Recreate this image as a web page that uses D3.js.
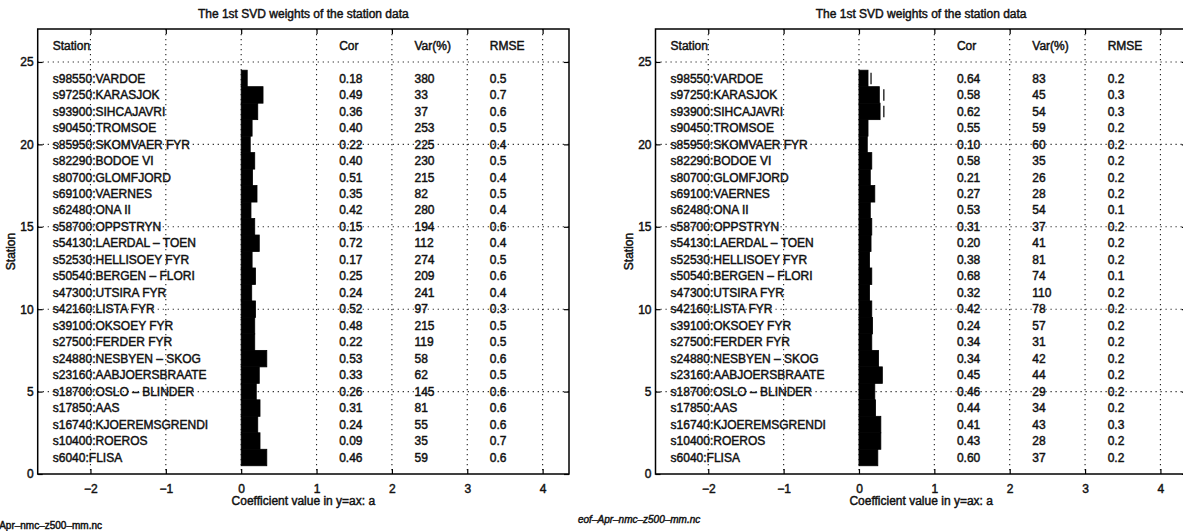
<!DOCTYPE html>
<html>
<head>
<meta charset="utf-8">
<script src="https://cdn.jsdelivr.net/npm/d3@7"></script>
<style>
  body { margin: 0; background: #fff; }
  svg text { font-family: "Liberation Sans", Arial, Helvetica, sans-serif; fill: #111; }
</style>
</head>
<body>
<svg id="fig" width="1183" height="531"></svg>
<script>
// Stations, listed from the top row (y = 24) down to the bottom row (y = 1)
const stations = [
  "s98550:VARDOE", "s97250:KARASJOK", "s93900:SIHCAJAVRI", "s90450:TROMSOE",
  "s85950:SKOMVAER FYR", "s82290:BODOE VI", "s80700:GLOMFJORD", "s69100:VAERNES",
  "s62480:ONA II", "s58700:OPPSTRYN", "s54130:LAERDAL – TOEN", "s52530:HELLISOEY FYR",
  "s50540:BERGEN – FLORI", "s47300:UTSIRA FYR", "s42160:LISTA FYR", "s39100:OKSOEY FYR",
  "s27500:FERDER FYR", "s24880:NESBYEN – SKOG", "s23160:AABJOERSBRAATE", "s18700:OSLO – BLINDER",
  "s17850:AAS", "s16740:KJOEREMSGRENDI", "s10400:ROEROS", "s6040:FLISA"
];

// Left figure: SVD weights (coefficient a) and statistics
const weightsLeft = [0.08, 0.29, 0.22, 0.145, 0.12, 0.18, 0.15, 0.21, 0.13, 0.18, 0.24, 0.145,
                     0.19, 0.14, 0.19, 0.18, 0.18, 0.34, 0.24, 0.20, 0.25, 0.22, 0.25, 0.34];
const corLeft  = [0.18, 0.49, 0.36, 0.40, 0.22, 0.40, 0.51, 0.35, 0.42, 0.15, 0.72, 0.17,
                  0.25, 0.24, 0.52, 0.48, 0.22, 0.53, 0.33, 0.26, 0.31, 0.24, 0.09, 0.46];
const varLeft  = [380, 33, 37, 253, 225, 230, 215, 82, 280, 194, 112, 274,
                  209, 241, 97, 215, 119, 58, 62, 145, 81, 55, 35, 59];
const rmseLeft = [0.5, 0.7, 0.6, 0.5, 0.4, 0.5, 0.4, 0.5, 0.4, 0.6, 0.4, 0.5,
                  0.6, 0.4, 0.3, 0.5, 0.5, 0.6, 0.5, 0.6, 0.6, 0.6, 0.7, 0.6];

// Right figure (April)
const weightsRight = [0.12, 0.27, 0.28, 0.12, 0.11, 0.17, 0.15, 0.21, 0.15, 0.17, 0.16, 0.14,
                      0.17, 0.14, 0.17, 0.18, 0.17, 0.26, 0.31, 0.21, 0.22, 0.29, 0.29, 0.25];
const corRight  = [0.64, 0.58, 0.62, 0.55, 0.10, 0.58, 0.21, 0.27, 0.53, 0.31, 0.20, 0.38,
                   0.68, 0.32, 0.42, 0.24, 0.34, 0.34, 0.45, 0.46, 0.44, 0.41, 0.43, 0.60];
const varRight  = [83, 45, 54, 59, 60, 35, 26, 28, 54, 37, 41, 81,
                   74, 110, 78, 57, 31, 42, 44, 29, 34, 43, 28, 37];
const rmseRight = [0.2, 0.3, 0.3, 0.2, 0.2, 0.2, 0.2, 0.2, 0.1, 0.2, 0.2, 0.2,
                   0.1, 0.2, 0.2, 0.2, 0.2, 0.2, 0.2, 0.2, 0.2, 0.3, 0.2, 0.2];
// Spread markers drawn beside the first northern bars of the right figure
const spreadStations = ["s98550:VARDOE", "s97250:KARASJOK", "s93900:SIHCAJAVRI"];
const spreadValues = [0.16, 0.33, 0.33];

// Axis ticks and table headers
const xTicks = [-2, -1, 0, 1, 2, 3, 4];
const yTicks = [0, 5, 10, 15, 20, 25];
const gridY = [5, 10, 15, 20, 25];
const headers = ["Station", "Cor", "Var(%)", "RMSE"];
const headerX = [-2.5, 1.3, 2.3, 3.3];

const titleText = "The 1st SVD weights of the station data";
const xLabelText = "Coefficient value in y=ax: a";
const yLabelText = "Station";
const fileText = "eof–Apr–nmc–z500–mm.nc";

const svg = d3.select("#fig");
const W = 531.3, TOP = 29, BOTTOM = 474;
const INK = 0.45;   // slight stroke so the lettering reads as heavy as printed type

const panels = [
  { left: 37.7, weights: weightsLeft, cor: corLeft, vr: varLeft, rmse: rmseLeft,
    spread: [], file: { x: 102, y: 529, anchor: "end", italic: false } },
  { left: 655.5, weights: weightsRight, cor: corRight, vr: varRight, rmse: rmseRight,
    spread: spreadStations.map((s, i) => ({ s, v: spreadValues[i] })),
    file: { x: 578, y: 523, anchor: "start", italic: true } }
];

panels.forEach(p => {
  const x = d3.scaleLinear().domain([-2.7, 4.35]).range([p.left, p.left + W]);
  const y = d3.scaleLinear().domain([0, 27]).range([BOTTOM, TOP]);
  const rowY = i => stations.length - i;   // VARDOE at 24 ... FLISA at 1
  const g = svg.append("g");

  // dotted grid
  const grid = g.append("g").attr("stroke", "#222").attr("stroke-width", 1.1)
    .attr("stroke-dasharray", "1.2,3.8");
  grid.selectAll("line.v").data(xTicks).join("line")
    .attr("x1", d => x(d)).attr("x2", d => x(d)).attr("y1", TOP).attr("y2", BOTTOM);
  grid.selectAll("line.h").data(gridY).join("line")
    .attr("x1", p.left).attr("x2", p.left + W).attr("y1", d => y(d)).attr("y2", d => y(d));

  // horizontal bars, one unit high per station
  g.append("g").selectAll("rect").data(p.weights).join("rect")
    .attr("x", x(0))
    .attr("y", (d, i) => y(rowY(i) + 0.5))
    .attr("width", d => x(d) - x(0))
    .attr("height", (d, i) => y(rowY(i) - 0.5) - y(rowY(i) + 0.5))
    .attr("fill", "#000").attr("stroke", "#000").attr("stroke-width", 0.8);

  // spread markers
  g.append("g").selectAll("line").data(p.spread).join("line")
    .attr("x1", d => x(d.v)).attr("x2", d => x(d.v))
    .attr("y1", d => y(rowY(stations.indexOf(d.s)) + 0.35))
    .attr("y2", d => y(rowY(stations.indexOf(d.s)) - 0.35))
    .attr("stroke", "#000").attr("stroke-width", 1.2);

  // table text
  const txt = g.append("g").attr("font-size", 12).attr("stroke", "#111").attr("stroke-width", INK);
  txt.selectAll("text.h").data(headers).join("text")
    .attr("x", (d, i) => x(headerX[i])).attr("y", y(26)).attr("dy", "0.35em").text(d => d);
  const cols = [
    { vals: stations, fx: headerX[0], fmt: d => d },
    { vals: p.cor, fx: headerX[1], fmt: d3.format(".2f") },
    { vals: p.vr, fx: headerX[2], fmt: d3.format("d") },
    { vals: p.rmse, fx: headerX[3], fmt: d3.format(".1f") }
  ];
  cols.forEach(c => {
    txt.append("g").selectAll("text").data(c.vals).join("text")
      .attr("x", x(c.fx)).attr("y", (d, i) => y(rowY(i))).attr("dy", "0.35em")
      .text(c.fmt);
  });

  // axes with inward ticks on all four sides
  const styleAxis = sel => {
    sel.select(".domain").remove();
    sel.selectAll("line").attr("stroke", "#000").attr("stroke-width", 1.2);
    sel.selectAll("text").attr("font-size", 12)
      .attr("fill", "#111").attr("stroke", "#111").attr("stroke-width", INK);
    sel.attr("font-family", null).attr("font-size", null);
  };
  const intFmt = d3.format("d");
  g.append("g").attr("transform", `translate(0,${BOTTOM})`)
    .call(d3.axisBottom(x).tickValues(xTicks).tickFormat(intFmt)
      .tickSizeInner(-5).tickSizeOuter(0).tickPadding(10))
    .call(styleAxis);
  g.append("g").attr("transform", `translate(0,${TOP})`)
    .call(d3.axisTop(x).tickValues(xTicks).tickSizeInner(-5).tickSizeOuter(0).tickFormat(""))
    .call(styleAxis);
  g.append("g").attr("transform", `translate(${p.left},0)`)
    .call(d3.axisLeft(y).tickValues(yTicks).tickFormat(intFmt)
      .tickSizeInner(-5).tickSizeOuter(0).tickPadding(4))
    .call(styleAxis);
  g.append("g").attr("transform", `translate(${p.left + W},0)`)
    .call(d3.axisRight(y).tickValues(yTicks).tickSizeInner(-5).tickSizeOuter(0).tickFormat(""))
    .call(styleAxis);

  // frame
  g.append("rect").attr("x", p.left).attr("y", TOP).attr("width", W).attr("height", BOTTOM - TOP)
    .attr("fill", "none").attr("stroke", "#000").attr("stroke-width", 1.5);

  // title and axis labels
  const cx = p.left + W / 2;
  const lab = g.append("g").attr("font-size", 12).attr("stroke", "#111").attr("stroke-width", INK);
  lab.append("text").attr("x", cx).attr("y", 18).attr("text-anchor", "middle").text(titleText);
  lab.append("text").attr("x", cx).attr("y", 505).attr("text-anchor", "middle").text(xLabelText);
  lab.append("text").attr("transform", `translate(${p.left - 23},${(TOP + BOTTOM) / 2}) rotate(-90)`)
    .attr("text-anchor", "middle").text(yLabelText);
  lab.append("text").attr("x", p.file.x).attr("y", p.file.y).attr("text-anchor", p.file.anchor)
    .attr("font-size", 10).attr("font-style", p.file.italic ? "italic" : "normal").text(fileText);
});
</script>
</body>
</html>
